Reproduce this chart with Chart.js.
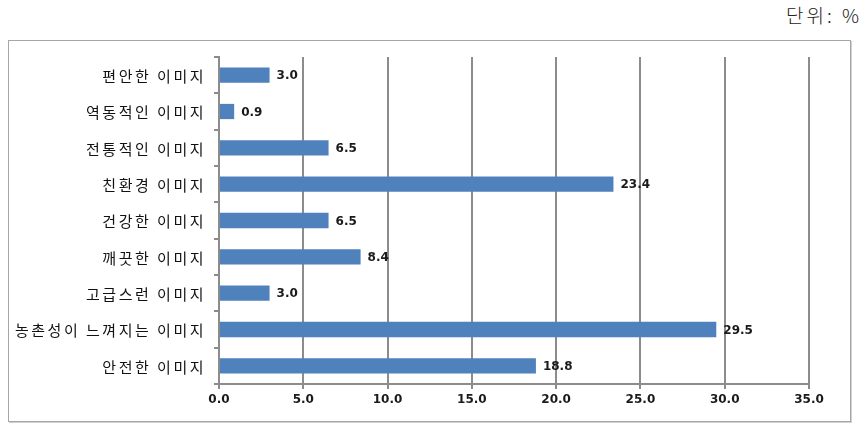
<!DOCTYPE html>
<html>
<head>
<meta charset="utf-8">
<script src="https://cdn.jsdelivr.net/npm/chart.js@4"></script>
<style>
  body { margin: 0; background: #fff; }
  #wrap { position: relative; width: 867px; height: 425px; }
  #box { position: absolute; left: 8px; top: 40px; width: 841px; height: 380px; border: 1px solid #a6a6a6; box-shadow: 1px 1px 0 #d0d0d0; }
  #unit { position: absolute; right: 5px; top: 1px; font: 300 19px "Noto Sans CJK KR"; letter-spacing: 3px; color: #222; }
  canvas { position: absolute; left: 0; top: 0; }
</style>
</head>
<body>
<div id="wrap">
  <div id="box"></div>
  <div id="unit">단위: %</div>
  <canvas id="chart" width="867" height="425"></canvas>
</div>
<script>
// categories, top to bottom
const categories = ["편안한 이미지", "역동적인 이미지", "전통적인 이미지", "친환경 이미지", "건강한 이미지", "깨끗한 이미지", "고급스런 이미지", "농촌성이 느껴지는 이미지", "안전한 이미지"];
const values = [3.0, 0.9, 6.5, 23.4, 6.5, 8.4, 3.0, 29.5, 18.8];
const xTicks = [0, 5, 10, 15, 20, 25, 30, 35];

// value labels next to each bar, and spaced-out category labels
const textPlugin = {
  id: "textPlugin",
  afterDatasetsDraw(chart) {
    const ctx = chart.ctx;
    const meta = chart.getDatasetMeta(0);
    const yScale = chart.scales.y;
    ctx.save();
    ctx.font = "bold 12px 'DejaVu Sans'";
    ctx.fillStyle = "#1a1a1a";
    ctx.textBaseline = "middle";
    meta.data.forEach((bar, i) => {
      ctx.fillText(values[i].toFixed(1), bar.x + 7, bar.y + 1);
    });
    ctx.font = "15px 'Noto Sans CJK KR'";
    ctx.letterSpacing = "2.5px";
    ctx.textAlign = "right";
    ctx.fillStyle = "#111";
    categories.forEach((c, i) => {
      ctx.fillText(c, yScale.left + yScale.width - 13, yScale.getPixelForValue(i) + 1);
    });
    ctx.restore();
  }
};

const ctx = document.getElementById("chart").getContext("2d");
new Chart(ctx, {
  type: "bar",
  data: {
    labels: categories,
    datasets: [{
      data: values,
      backgroundColor: "#4f81bd",
      barPercentage: 0.42,
      categoryPercentage: 1
    }]
  },
  options: {
    indexAxis: "y",
    responsive: false,
    animation: false,
    layout: { padding: { left: 0, right: 58, top: 57, bottom: 11 } },
    plugins: { legend: { display: false }, tooltip: { enabled: false } },
    scales: {
      x: {
        min: 0,
        max: 35,
        afterBuildTicks: s => { s.ticks = xTicks.map(v => ({ value: v })); },
        afterFit: s => { s.height = 30; },
        grid: { color: "#8c8c8c", lineWidth: 2, tickLength: 5, drawTicks: true },
        border: { color: "#8c8c8c", width: 2 },
        ticks: {
          color: "#1a1a1a",
          font: { family: "DejaVu Sans", size: 12, weight: "bold" },
          padding: 4,
          callback: v => v.toFixed(1)
        }
      },
      y: {
        afterFit: s => { s.width = 219; },
        grid: { drawOnChartArea: false, color: "#8c8c8c", lineWidth: 2, tickLength: 5, offset: true },
        border: { color: "#8c8c8c", width: 2 },
        ticks: { display: false }
      }
    }
  },
  plugins: [textPlugin]
});
</script>
</body>
</html>
